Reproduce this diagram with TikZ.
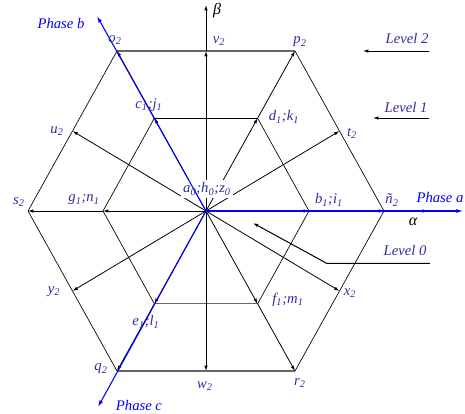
\documentclass[tikz,border=0pt]{standalone}
\usepackage{fontspec}
\setmainfont{Liberation Serif}
\usetikzlibrary{arrows.meta}
\definecolor{labc}{RGB}{45,45,160}
\definecolor{phc}{RGB}{0,0,255}
\newcommand\vl[2]{\textit{#1}\textsubscript{\textit{#2}}}
\begin{document}
\begin{tikzpicture}[x=0.75pt,y=0.75pt,
  vec/.style={draw=black, line width=0.6pt, -{Latex[length=4pt,width=2.6pt]}},
  hedge/.style={draw=black, line width=0.5pt},
  gedge/.style={draw=black!60, line width=0.8pt},
  phase/.style={draw=phc, line width=0.8pt, -{Latex[length=5pt,width=3pt]}},
  lab/.style={text=labc, font=\fontsize{11}{12}\selectfont\itshape, inner sep=1pt},
  plab/.style={text=phc, font=\fontsize{11}{12}\selectfont\itshape, inner sep=1pt},
  alab/.style={text=black, font=\fontsize{12}{13}\selectfont\itshape, inner sep=1pt}]
\useasboundingbox (-206,-203) rectangle (259,211);
% points
\coordinate (O) at (0,0);
\coordinate (s2) at (-178,0);
\coordinate (n2) at (178,0);
\coordinate (o2) at (-89,160);
\coordinate (p2) at (89,160);
\coordinate (q2) at (-89,-160);
\coordinate (r2) at (89,-160);
\coordinate (v2) at (0,160);
\coordinate (w2) at (0,-160);
\coordinate (t2) at (133.5,80);
\coordinate (u2) at (-133.5,80);
\coordinate (x2) at (133.5,-80);
\coordinate (y2) at (-133.5,-80);
\coordinate (b1) at (103,0);
\coordinate (g1) at (-103,0);
\coordinate (c1) at (-51.6,92.8);
\coordinate (d1) at (51.6,92.8);
\coordinate (e1) at (-51.6,-92.8);
\coordinate (f1) at (51.6,-92.8);
\coordinate (btip) at (-109,195);
\coordinate (ctip) at (-108,-196);
\coordinate (atip) at (257,0);
\coordinate (altip) at (222,0);
\coordinate (betatip) at (0,206);
\coordinate (L2a) at (223,160);
\coordinate (L2b) at (157,160);
\coordinate (L1a) at (223,93);
\coordinate (L1b) at (167,93);
\coordinate (L0a) at (224,-52.5);
\coordinate (L0b) at (121,-52.5);
\coordinate (L0c) at (47,-12);
% outer hexagon
\draw[gedge] (o2) -- (p2);
\draw[gedge] (q2) -- (r2);
\draw[hedge] (p2) -- (n2) -- (r2);
\draw[hedge] (q2) -- (s2) -- (o2);
% inner hexagon
\draw[hedge] (c1) -- (d1);
\draw[gedge] (e1) -- (f1);
\draw[hedge] (d1) -- (b1) -- (f1);
\draw[hedge] (e1) -- (g1) -- (c1);
% vectors
\draw[vec] (O) -- (b1);
\draw[vec] (b1) -- (n2);
\draw[vec] (n2) -- (altip);
\draw[vec] (O) -- (g1);
\draw[vec] (g1) -- (s2);
\draw[vec] (O) -- (c1);
\draw[vec] (c1) -- (o2);
\draw[vec] (O) -- (d1);
\draw[vec] (d1) -- (p2);
\draw[vec] (O) -- (e1);
\draw[vec] (e1) -- (q2);
\draw[vec] (O) -- (f1);
\draw[vec] (f1) -- (r2);
\draw[vec] (O) -- (v2);
\draw[vec] (v2) -- (betatip);
\draw[vec] (O) -- (w2);
\draw[vec] (O) -- (t2);
\draw[vec] (O) -- (u2);
\draw[vec] (O) -- (x2);
\draw[vec] (O) -- (y2);
% level arrows
\draw[vec] (L2a) -- (L2b);
\draw[vec] (L1a) -- (L1b);
\draw[vec, line width=0.75pt] (L0a) -- (L0b) -- (L0c);
% center label with white background
\node[lab, fill=white, inner sep=2pt] (a0) at (1,22) {\vl{a}{0};\vl{h}{0};\vl{z}{0}};
% phase axes
\draw[phase] (O) -- (atip);
\draw[phase] (O) -- (btip);
\draw[phase] (O) -- (ctip);
% labels
\node[plab] (phb) at (-145,188) {Phase b};
\node[plab] (pha) at (234,14) {Phase a};
\node[plab] (phcl) at (-67,-194) {Phase c};
\node[alab] (beta) at (11,200) {β};
\node[alab] (alpha) at (207,-11) {α};
\node[lab] (lv2) at (201,173) {Level 2};
\node[lab] (lv1) at (200,104) {Level 1};
\node[lab] (lv0) at (199,-39) {Level 0};
\node[lab] (lo2) at (-91,171) {\vl{o}{2}};
\node[lab] (lv2n) at (13,170) {\vl{v}{2}};
\node[lab] (lp2) at (94,169) {\vl{p}{2}};
\node[lab] (lc1) at (-57,106) {\vl{c}{1};\vl{j}{1}};
\node[lab] (ld1) at (78,94) {\vl{d}{1};\vl{k}{1}};
\node[lab] (lu2) at (-149,80) {\vl{u}{2}};
\node[lab] (lt2) at (146,78) {\vl{t}{2}};
\node[lab] (ls2) at (-187,9) {\vl{s}{2}};
\node[lab] (lg1) at (-122,11) {\vl{g}{1};\vl{n}{1}};
\node[lab] (lb1) at (123,11) {\vl{b}{1};\vl{i}{1}};
\node[lab] (ln2) at (186,11) {\vl{ñ}{2}};
\node[lab] (ly2) at (-152,-81) {\vl{y}{2}};
\node[lab] (lx2) at (144,-82) {\vl{x}{2}};
\node[lab] (le1) at (-60,-111) {\vl{e}{1};\vl{l}{1}};
\node[lab] (lf1) at (82,-89) {\vl{f}{1};\vl{m}{1}};
\node[lab] (lq2) at (-105,-158) {\vl{q}{2}};
\node[lab] (lw2) at (-1,-175) {\vl{w}{2}};
\node[lab] (lr2) at (94,-172) {\vl{r}{2}};
\end{tikzpicture}
\end{document}
